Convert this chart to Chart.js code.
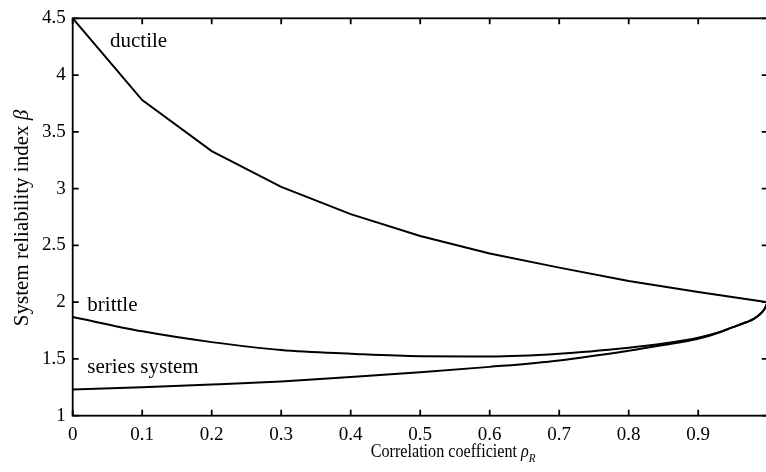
<!DOCTYPE html>
<html>
<head>
<meta charset="utf-8">
<script src="https://cdn.jsdelivr.net/npm/chart.js@4.4.1/dist/chart.umd.min.js"></script>
<style>
  html, body { margin: 0; padding: 0; background: #fff; overflow: hidden; }
  #wrap { width: 766px; height: 472px; overflow: hidden; }
  canvas { display: block; }
</style>
</head>
<body>
<div id="wrap"><canvas id="c" width="770" height="472"></canvas></div>
<script>
// Correlation coefficient values where the ductile system was evaluated
const rhoCoarse = [0, 0.1, 0.2, 0.3, 0.4, 0.5, 0.6, 0.7, 0.8, 0.9, 1.0];
const ductileBeta = [4.5, 3.78, 3.33, 3.015, 2.775, 2.583, 2.428, 2.304, 2.186, 2.09, 2.0];

// Finer grid near rho = 1 for the brittle and series curves
const rhoFine = [0, 0.1, 0.2, 0.3, 0.4, 0.5, 0.6, 0.7, 0.8, 0.85, 0.9, 0.93, 0.95, 0.97, 0.98, 0.99, 0.995, 1.0];
const brittleBeta = [1.869, 1.743, 1.648, 1.578, 1.546, 1.524, 1.522, 1.546, 1.599, 1.635, 1.687, 1.735, 1.78, 1.825, 1.852, 1.9, 1.935, 2.0];
const seriesBeta  = [1.231, 1.250, 1.274, 1.302, 1.340, 1.382, 1.430, 1.487, 1.572, 1.622, 1.678, 1.733, 1.78, 1.825, 1.852, 1.9, 1.935, 2.0];

// Axis ticks and their labels
const xTickValues = [0, 0.1, 0.2, 0.3, 0.4, 0.5, 0.6, 0.7, 0.8, 0.9, 1.0];
const xTickLabels = ['0', '0.1', '0.2', '0.3', '0.4', '0.5', '0.6', '0.7', '0.8', '0.9', ''];
const yTickValues = [1, 1.5, 2, 2.5, 3, 3.5, 4, 4.5];
const yTickLabels = ['1', '1.5', '2', '2.5', '3', '3.5', '4', '4.5'];

// Curve annotations
const curveLabels = ['ductile', 'brittle', 'series system'];

const SERIF = '"Liberation Serif", "Times New Roman", serif';

const pairs = (xs, ys) => xs.map((x, i) => ({ x: x, y: ys[i] }));

// Box frame, inward ticks, curve names and axis titles
const framePlugin = {
  id: 'frame',
  afterDraw(chart) {
    const { ctx, chartArea: a, scales: { x, y } } = chart;
    ctx.save();
    ctx.strokeStyle = '#000';
    ctx.lineWidth = 1.8;
    ctx.strokeRect(a.left, a.top, a.right - a.left, a.bottom - a.top);
    const tl = 6;
    ctx.beginPath();
    xTickValues.forEach(v => {
      const px = x.getPixelForValue(v);
      ctx.moveTo(px, a.bottom); ctx.lineTo(px, a.bottom - tl);
      ctx.moveTo(px, a.top); ctx.lineTo(px, a.top + tl);
    });
    yTickValues.forEach(v => {
      const py = y.getPixelForValue(v);
      ctx.moveTo(a.left, py); ctx.lineTo(a.left + tl, py);
      ctx.moveTo(a.right, py); ctx.lineTo(a.right - tl, py);
    });
    ctx.stroke();

    ctx.fillStyle = '#000';
    ctx.textBaseline = 'alphabetic';
    ctx.textAlign = 'left';
    ctx.font = '21px ' + SERIF;
    ctx.fillText(curveLabels[0], 110, 46.7);
    ctx.fillText(curveLabels[1], 87.3, 310.7);
    ctx.fillText(curveLabels[2], 87.3, 372.7);

    // x-axis title with subscripted rho (slightly condensed face)
    ctx.save();
    ctx.translate(370.7, 457.3);
    ctx.scale(0.85, 1);
    const xt = 'Correlation coefficient ';
    let cx = 0;
    ctx.font = '19px ' + SERIF;
    ctx.fillText(xt, cx, 0);
    cx += ctx.measureText(xt).width;
    ctx.font = 'italic 19px ' + SERIF;
    ctx.fillText('ρ', cx, 0);
    cx += ctx.measureText('ρ').width;
    ctx.font = 'italic 13px ' + SERIF;
    ctx.fillText('R', cx, 5);
    ctx.restore();

    // y-axis title, rotated
    const yt = 'System reliability index ';
    ctx.translate(28.3, 218);
    ctx.rotate(-Math.PI / 2);
    ctx.font = '21px ' + SERIF;
    const w1 = ctx.measureText(yt).width;
    ctx.font = 'italic 21px ' + SERIF;
    const w2 = ctx.measureText('β').width;
    const sx = -(w1 + w2) / 2;
    ctx.font = '21px ' + SERIF;
    ctx.fillText(yt, sx, 0);
    ctx.font = 'italic 21px ' + SERIF;
    ctx.fillText('β', sx + w1, 0);
    ctx.restore();
  }
};

const lineStyle = {
  borderColor: '#000',
  borderWidth: 2,
  pointRadius: 0,
  fill: false
};

new Chart(document.getElementById('c'), {
  type: 'line',
  data: {
    datasets: [
      Object.assign({ label: 'ductile', data: pairs(rhoCoarse, ductileBeta), tension: 0 }, lineStyle),
      Object.assign({ label: 'brittle', data: pairs(rhoFine, brittleBeta), cubicInterpolationMode: 'monotone' }, lineStyle),
      Object.assign({ label: 'series system', data: pairs(rhoFine, seriesBeta), cubicInterpolationMode: 'monotone' }, lineStyle)
    ]
  },
  options: {
    responsive: false,
    devicePixelRatio: 1,
    animation: false,
    layout: { padding: { left: 0, top: 18.3, right: 2.3, bottom: 0 } },
    plugins: { legend: { display: false }, tooltip: { enabled: false } },
    scales: {
      x: {
        type: 'linear',
        min: 0, max: 1,
        grid: { display: false, drawTicks: false },
        border: { display: false },
        afterFit(s) { s.height = 56.3; s.paddingLeft = 0; s.paddingRight = 0; },
        afterBuildTicks(s) { s.ticks = xTickValues.map(v => ({ value: v })); },
        ticks: {
          autoSkip: false,
          maxRotation: 0,
          padding: 8,
          color: '#000',
          font: { family: SERIF, size: 19 },
          callback: (v, i) => xTickLabels[i]
        }
      },
      y: {
        type: 'linear',
        min: 1, max: 4.5,
        grid: { display: false, drawTicks: false },
        border: { display: false },
        afterFit(s) { s.width = 72.7; s.paddingTop = 0; s.paddingBottom = 0; },
        afterBuildTicks(s) { s.ticks = yTickValues.map(v => ({ value: v })); },
        ticks: {
          autoSkip: false,
          padding: 7,
          color: '#000',
          font: { family: SERIF, size: 19 },
          callback: (v, i) => yTickLabels[i]
        }
      }
    }
  },
  plugins: [framePlugin]
});
</script>
</body>
</html>
